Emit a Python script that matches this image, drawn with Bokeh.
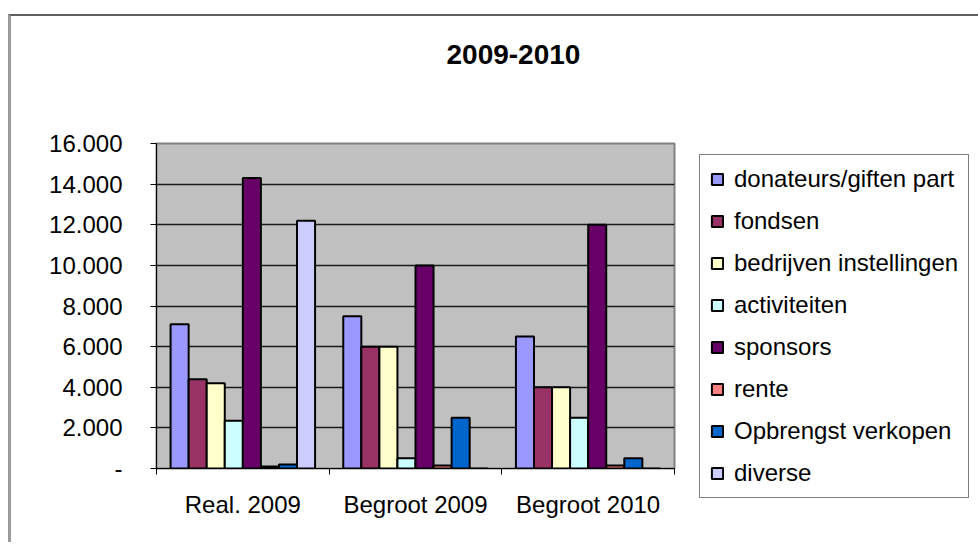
from bokeh.plotting import figure
from bokeh.models import FixedTicker, Legend, LegendItem, Range1d, Title
from bokeh.embed import file_html
from bokeh.resources import INLINE

# ---- data ----
categories = ["Real. 2009", "Begroot 2009", "Begroot 2010"]
series_names = ["donateurs/giften part", "fondsen", "bedrijven instellingen",
                "activiteiten", "sponsors", "rente", "Opbrengst verkopen", "diverse"]
series_colors = ["#9999FF", "#993366", "#FFFFCC", "#CCFFFF",
                 "#660066", "#FF8080", "#0066CC", "#CCCCFF"]

donateurs = [7100, 7500, 6500]
fondsen = [4400, 6000, 4000]
bedrijven = [4200, 6000, 4000]
activiteiten = [2350, 500, 2500]
sponsors = [14300, 10000, 12000]
rente = [100, 150, 150]
opbrengst = [200, 2500, 500]
diverse = [12200, 0, 0]
series_values = [donateurs, fondsen, bedrijven, activiteiten, sponsors, rente, opbrengst, diverse]

y_ticks = [0, 2000, 4000, 6000, 8000, 10000, 12000, 14000, 16000]
y_tick_labels = ["-", "2.000", "4.000", "6.000", "8.000", "10.000", "12.000", "14.000", "16.000"]
title_text = "2009-2010"

FONT = "Liberation Sans"

p = figure(title=None, frame_width=518, frame_height=325,
           min_border_left=145, min_border_top=127, min_border_right=303, min_border_bottom=74,
           x_range=Range1d(0, len(categories)), y_range=Range1d(0, 16000),
           output_backend="svg", toolbar_location=None)
p.styles = {"border-top": "2px solid #606060", "border-left": "3px solid #9a9a9a",
            "margin-top": "14px", "margin-left": "8px"}

# spacer between frame and title, then the title itself
p.add_layout(Title(text=" ", text_font_size="1px", standoff=72), "above")
p.add_layout(Title(text=title_text, align="left", offset=290, standoff=10,
                   text_font=FONT, text_font_style="bold", text_font_size="28px",
                   text_color="black"), "above")

p.background_fill_color = "#C0C0C0"
p.border_fill_color = "white"
p.outline_line_color = "#808080"
p.outline_line_width = 2

p.xgrid.visible = False
p.ygrid.grid_line_color = "#1a1a1a"
p.ygrid.grid_line_width = 1.5

# y axis
p.yaxis.ticker = FixedTicker(ticks=y_ticks, minor_ticks=[])
p.yaxis.major_label_overrides = {t: l for t, l in zip(y_ticks, y_tick_labels)}
p.yaxis.major_tick_out = 6
p.yaxis.major_tick_in = 0
p.yaxis.minor_tick_out = 0
p.yaxis.axis_line_color = "black"
p.yaxis.major_tick_line_color = "black"
p.yaxis.major_label_standoff = 28
p.yaxis.major_label_text_font = FONT
p.yaxis.major_label_text_font_size = "24px"
p.yaxis.major_label_text_color = "black"

# x axis
centers = [i + 0.5 for i in range(len(categories))]
bounds = [float(i) for i in range(len(categories) + 1)]
p.xaxis.ticker = FixedTicker(ticks=centers, minor_ticks=bounds)
p.xaxis.major_label_overrides = {c: n for c, n in zip(centers, categories)}
p.xaxis.major_tick_out = 0
p.xaxis.major_tick_in = 0
p.xaxis.minor_tick_out = 6
p.xaxis.minor_tick_in = 0
p.xaxis.minor_tick_line_color = "black"
p.xaxis.axis_line_color = "black"
p.xaxis.major_label_standoff = 16
p.xaxis.major_label_text_font = FONT
p.xaxis.major_label_text_font_size = "24px"
p.xaxis.major_label_text_color = "black"

# bars
bw = 0.1046
n = len(series_names)
items = []
for j, (name, col, vals) in enumerate(zip(series_names, series_colors, series_values)):
    xs = [c + (j - (n - 1) / 2) * bw for c in centers]
    r = p.vbar(x=xs, top=vals, bottom=0, width=bw, fill_color=col,
               line_color="black", line_width=2)
    items.append(LegendItem(label=name, renderers=[r]))

legend = Legend(items=items, location=(25, -30), padding=10, spacing=14,
                label_height=27, glyph_width=14, glyph_height=14, label_standoff=10,
                label_text_font=FONT, label_text_font_size="24px", label_text_color="black",
                border_line_color="black", border_line_width=1,
                background_fill_color="white", background_fill_alpha=1.0)
p.add_layout(legend, "right")

open("out.html", "w").write(file_html(p, INLINE))
